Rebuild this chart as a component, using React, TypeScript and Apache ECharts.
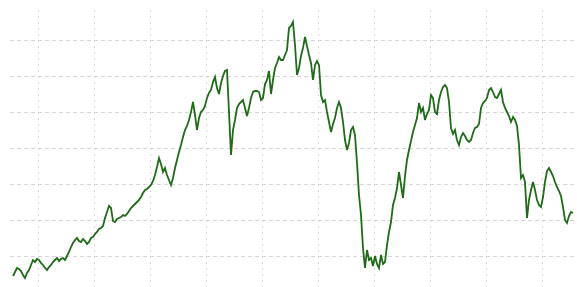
import React, { useEffect, useRef } from "react";
import * as echarts from "echarts";

// Position of the first observation on the x axis (in observation steps)
const firstObservation = 15.5;

// Series values (index level, arbitrary units), one every step
const seriesValues: number[] = [
  // part 1
  16, 20, 24, 23, 21, 17, 14, 19, 22, 27, 32, 30, 33, 32, 29, 27, 24, 22, 25, 27,
  30, 32, 34, 31, 33, 34, 32, 36, 40, 45, 49, 52, 54, 51, 50, 53, 51, 48, 50, 54,
  55, 58, 60, 63,
  // part 2
  64, 66, 74, 80, 86, 84, 71, 70, 73, 74, 75, 77, 76, 78, 81, 84, 86, 88, 90, 92,
  95, 99, 102, 103, 105, 107, 111, 117, 125, 134, 128, 120, 124, 117, 112, 107, 114, 124, 132, 140,
  147, 155, 162, 166, 172, 180, 190,
  // part 3
  177, 162, 174, 180, 182, 186, 194, 199, 202, 210, 215, 204, 198, 209, 216, 221, 222, 180, 137, 162,
  172, 184, 188, 190, 192, 184, 176, 184, 194, 200, 201, 201, 200, 192, 194, 208, 212, 221, 198, 212,
  224, 229, 235, 232, 232, 237, 242, 264,
  // part 4
  266, 270, 247, 217, 224, 236, 244, 255, 246, 237, 229, 212, 227, 231, 227, 197, 190, 192, 180, 170,
  160, 168, 174, 184, 190, 184, 170, 152, 142, 149, 162, 165, 157, 129, 97, 77, 44, 24, 42, 32,
  34, 26, 36, 28, 24, 37, 28, 30,
  // part 5
  47, 60, 70, 87, 94, 104, 120, 107, 94, 116, 132, 142, 151, 160, 167, 174, 189, 180, 184, 172,
  178, 182, 197, 194, 180, 178, 192, 200, 205, 207, 204, 190, 164, 158, 162, 152, 147, 155, 159, 156,
  152, 150, 152, 159, 164, 165, 168, 184,
  // part 6
  189, 191, 194, 202, 204, 200, 195, 194, 198, 202, 190, 184, 180, 176, 170, 175, 172, 166, 147, 114,
  117, 110, 74, 92, 102, 110, 102, 92, 87, 85, 95, 110, 121, 124, 120, 116, 110, 105, 101, 96,
  85, 72, 69, 76, 80, 79,
];

// Axis ranges and tick spacing
const xRange = { min: 0, max: 308, interval: 28 };
const yRange = { min: 0, max: 288, interval: 36 };

export default function App() {
  const ref = useRef<HTMLDivElement>(null);

  useEffect(() => {
    if (!ref.current) return;
    const chart = echarts.init(ref.current, null, { renderer: "svg" });
    chart.setOption({
      animation: false,
      grid: { left: 0, right: 0, top: 0, bottom: 0, containLabel: false },
      xAxis: {
        type: "value",
        min: xRange.min,
        max: xRange.max,
        interval: xRange.interval,
        axisLine: { show: false },
        axisTick: { show: false },
        axisLabel: { show: false },
        splitLine: {
          show: true,
          showMinLine: false,
          showMaxLine: false,
          lineStyle: { color: "#d6d6d6", width: 1, type: [2, 4] },
        },
      },
      yAxis: {
        type: "value",
        min: yRange.min,
        max: yRange.max,
        interval: yRange.interval,
        axisLine: { show: false },
        axisTick: { show: false },
        axisLabel: { show: false },
        splitLine: {
          show: true,
          showMinLine: false,
          showMaxLine: false,
          lineStyle: { color: "#d6d6d6", width: 1, type: [4, 3] },
        },
      },
      series: [
        {
          type: "line",
          data: seriesValues.map((v, i) => [firstObservation + i, v]),
          symbol: "none",
          showSymbol: false,
          silent: true,
          lineStyle: { color: "#1f6b18", width: 1.8, join: "miter" },
        },
      ],
    });
    return () => chart.dispose();
  }, []);

  return (
    <div
      style={{
        position: "fixed",
        left: 8,
        top: 10,
        width: 569,
        height: 277,
        overflow: "hidden",
        background: "#ffffff",
      }}
    >
      <div
        ref={ref}
        style={{ position: "absolute", left: -26, top: -6, width: 616, height: 288 }}
      />
    </div>
  );
}
